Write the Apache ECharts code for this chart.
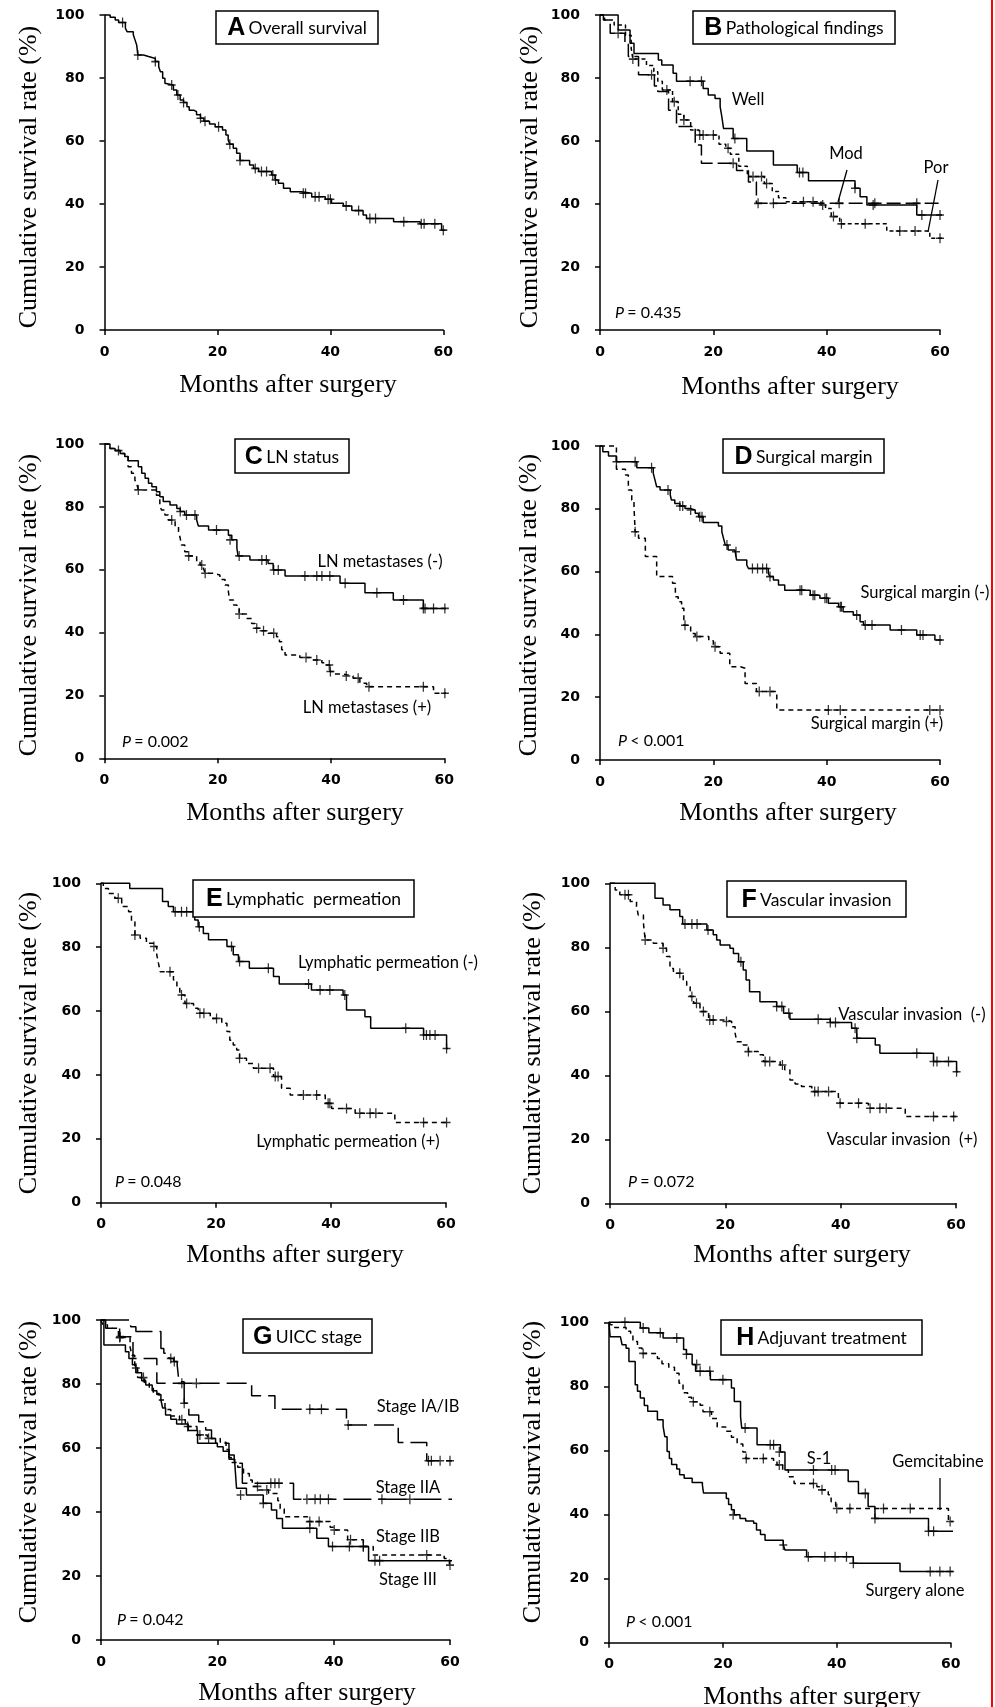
<!DOCTYPE html>
<html>
<head>
<meta charset="utf-8">
<script src="https://cdn.jsdelivr.net/npm/echarts@6/dist/echarts.min.js"></script>
<style>
  html, body { margin: 0; padding: 0; background: #fff; }
  #main { width: 995px; height: 1707px; }
</style>
</head>
<body>
<div id="main"></div>
<script>
// axis ticks
var ticksX = [0, 20, 40, 60];
var ticksY = [0, 20, 40, 60, 80, 100];

// A overall survival: [month, %] step points, censor marks
var overall = [[0,100],[1.0,99.3],[1.9,98.4],[2.5,97.6],[3.7,95.8],[4.0,94.7],[5.1,93.7],[5.4,92.1],[5.7,90.5],[5.9,87.3],[6.9,86.8],[7.8,86.2],[9.0,85.2],[9.6,83.6],[9.9,82.0],[10.3,79.9],[10.7,78.3],[11.0,77.8],[12.2,76.2],[12.8,74.6],[13.4,73.0],[14.0,72.2],[14.6,70.9],[15.0,69.8],[15.8,69.3],[16.3,68.3],[17.0,67.2],[17.6,66.3],[18.6,65.4],[19.6,64.5],[20.9,63.5],[21.5,61.9],[21.9,60.3],[22.2,59.0],[22.8,57.7],[23.4,56.1],[24.0,53.8],[25.7,52.4],[26.4,51.3],[27.3,50.3],[29.6,49.2],[30.2,47.6],[30.8,46.6],[31.7,45.0],[32.9,43.9],[34.9,43.4],[36.7,42.3],[39.1,41.5],[40.2,40.2],[42.3,39.4],[43.8,37.9],[45.8,36.5],[46.4,35.4],[51.2,34.4],[55.9,33.7],[59.7,31.7],[63.4,31.7]];
var overallCens = [[3.2,97.6],[5.9,87.3],[9.0,85.2],[11.9,77.8],[13.0,74.6],[14.0,72.2],[17.0,67.2],[17.8,66.3],[20.2,64.5],[22.2,59.0],[24.0,53.8],[26.7,51.3],[27.8,50.3],[28.7,50.3],[29.8,49.2],[30.3,47.6],[35.2,43.4],[35.6,43.4],[37.3,42.3],[38.0,42.3],[39.6,41.5],[40.0,41.5],[42.8,39.4],[45.0,37.9],[47.0,35.4],[48.0,35.4],[53.0,34.4],[56.1,33.7],[56.6,33.7],[58.5,33.7],[60.0,31.7]];

// B pathological findings
var bWell = [[0,100],[3.2,95.2],[5.3,91.0],[6.0,87.8],[10.3,85.7],[10.9,84.1],[12.9,81.5],[13.5,79.0],[18.2,76.7],[19.1,74.6],[20.3,73.5],[21.2,70.9],[21.5,67.7],[21.8,64.0],[23.5,60.8],[25.9,56.8],[30.6,52.4],[34.8,50.0],[36.8,47.4],[45.0,45.0],[45.9,42.3],[47.1,39.7],[55.9,36.5],[63.8,36.5]];
var bWellCens = [[15.9,79.0],[17.9,79.0],[23.8,60.8],[35.2,50.0],[35.8,50.0],[45.0,45.0],[48.2,39.7],[56.8,36.5],[60.0,36.5]];
var bMod = [[0,100],[0.6,98.4],[1.8,94.2],[4.4,91.0],[5.0,86.8],[6.8,81.0],[9.6,77.5],[10.2,75.7],[12.1,69.8],[13.5,64.6],[16.8,58.7],[17.9,52.9],[24.1,50.6],[26.2,47.0],[27.6,40.2],[63.8,40.2]];
var bModCens = [[3.2,94.2],[9.1,81.0],[23.5,52.9],[27.9,40.2],[30.6,40.2],[42.2,40.2],[48.5,40.2],[55.9,40.2]];
var bPor = [[0,100],[0.8,98.4],[2.5,96.8],[4.5,93.6],[5.5,89.5],[5.8,86.0],[8.2,84.0],[9.5,82.0],[10.2,79.0],[11.0,76.2],[12.8,72.5],[13.8,68.5],[14.8,66.7],[16.0,63.5],[17.5,61.9],[21.0,59.0],[22.2,57.7],[23.0,55.8],[24.5,52.0],[26.0,48.7],[29.0,46.5],[30.4,44.0],[31.5,42.0],[32.8,40.7],[39.0,39.7],[39.8,38.6],[40.8,36.0],[42.3,33.7],[50.6,31.4],[58.2,29.1],[62.4,29.1]];
var bPorCens = [[5.8,86.0],[11.8,76.2],[13.1,72.5],[14.8,66.7],[17.6,61.9],[18.2,61.9],[20.0,61.9],[22.6,57.7],[27.0,48.7],[28.5,48.7],[29.4,46.5],[35.9,40.7],[37.6,40.7],[39.3,39.7],[41.2,36.0],[42.6,33.7],[46.8,33.7],[52.9,31.4],[55.6,31.4],[60.0,29.1]];

// C LN status
var cNeg = [[0,100],[1.0,98.6],[1.9,97.9],[2.8,97.0],[3.6,96.0],[4.2,94.7],[6.0,92.8],[6.6,90.7],[7.2,89.1],[7.8,87.5],[8.4,86.4],[9.2,84.8],[9.8,83.2],[10.4,81.7],[11.6,80.6],[12.8,79.5],[13.4,78.5],[14.2,77.4],[16.3,75.8],[16.6,73.9],[18.4,72.6],[21.9,71.0],[22.5,69.5],[23.4,66.8],[23.6,64.4],[25.7,63.1],[28.9,62.0],[29.8,59.9],[31.9,58.0],[41.6,55.7],[46.0,52.7],[51.0,50.4],[56.3,47.7],[63.6,47.7]];
var cNegCens = [[2.5,97.9],[13.4,78.5],[14.5,77.4],[16.0,77.4],[19.8,72.6],[22.2,69.5],[23.8,64.4],[27.8,63.1],[28.6,63.1],[29.9,59.9],[30.7,59.9],[35.4,58.0],[37.5,58.0],[38.4,58.0],[39.8,58.0],[42.5,55.7],[48.1,52.7],[52.8,50.4],[56.3,47.7],[56.6,47.7],[58.1,47.7],[60.1,47.7]];
var cPos = [[0,100],[1.0,98.6],[1.9,97.9],[2.8,97.0],[3.6,96.0],[4.2,92.8],[4.8,90.7],[5.4,88.5],[5.7,87.5],[6.0,85.4],[9.2,83.7],[9.8,80.3],[10.1,79.0],[10.7,77.4],[11.3,75.8],[12.5,73.7],[13.1,72.1],[13.4,70.0],[13.6,67.9],[14.2,65.7],[14.8,64.4],[16.3,62.6],[16.9,61.5],[17.5,60.4],[17.8,58.9],[19.2,58.3],[20.4,56.9],[21.3,55.1],[21.9,53.0],[22.1,50.4],[22.8,48.8],[23.4,47.7],[23.8,45.9],[25.1,44.5],[26.0,42.9],[26.6,41.4],[27.5,40.6],[28.9,39.8],[30.4,38.7],[30.9,37.1],[31.3,34.5],[31.9,32.9],[34.5,32.1],[36.9,31.3],[38.4,30.4],[38.9,29.7],[39.8,27.6],[40.7,26.8],[42.2,26.2],[43.9,25.5],[45.1,23.9],[46.3,22.8],[58.1,20.7],[62.8,20.7]];
var cPosCens = [[6.0,85.4],[11.9,75.8],[14.9,64.4],[17.2,61.5],[17.8,58.9],[23.8,45.9],[26.9,41.4],[28.1,40.6],[29.9,39.8],[35.6,32.1],[37.5,31.3],[39.7,29.7],[39.9,27.6],[42.7,26.2],[44.8,25.5],[46.7,22.8],[56.3,22.8],[60.1,20.7]];

// D surgical margin
var dNeg = [[0,100],[0.5,98.2],[1.5,96.8],[2.9,95.0],[6.5,93.1],[9.4,91.3],[9.7,89.2],[10.0,87.0],[10.6,86.0],[12.4,84.4],[12.6,82.8],[13.2,81.7],[14.1,80.9],[15.0,80.1],[15.9,79.6],[16.8,78.6],[17.4,77.5],[18.2,75.6],[20.9,74.5],[21.5,72.7],[21.8,70.6],[22.1,68.5],[22.6,66.9],[23.8,66.3],[24.1,63.7],[25.9,62.1],[26.2,61.0],[29.7,59.4],[30.0,58.4],[30.6,57.3],[31.5,55.7],[32.6,54.1],[37.1,52.5],[38.8,51.5],[40.3,49.9],[42.1,48.8],[42.9,47.2],[44.7,46.2],[45.9,44.0],[46.5,43.0],[51.2,41.4],[55.9,39.8],[59.1,38.2],[63.8,38.2]];
var dNegCens = [[2.9,95.0],[6.2,95.0],[9.1,93.1],[12.0,86.0],[14.1,80.9],[14.6,80.9],[16.0,79.6],[17.6,77.5],[18.0,77.5],[22.4,68.5],[24.0,66.3],[26.9,61.0],[27.8,61.0],[28.7,61.0],[29.4,61.0],[30.0,58.4],[35.3,54.1],[35.6,54.1],[37.6,52.5],[37.9,52.5],[39.7,51.5],[40.0,51.5],[42.4,48.8],[42.6,48.8],[45.3,46.2],[46.8,43.0],[48.0,43.0],[53.2,41.4],[56.5,39.8],[57.0,39.8],[60.0,38.2]];
var dPos = [[0,100],[2.9,92.6],[4.5,90.8],[5.0,86.0],[5.6,82.8],[6.0,80.7],[6.2,72.7],[6.8,70.6],[8.0,64.8],[10.0,58.4],[12.8,56.3],[13.3,52.0],[13.8,50.4],[14.4,48.3],[14.8,42.9],[16.0,40.3],[16.8,39.3],[19.2,38.0],[20.0,36.1],[21.2,34.0],[22.9,29.7],[24.8,29.2],[25.6,24.4],[27.6,21.8],[31.2,15.9],[63.8,15.9]];
var dPosCens = [[6.2,72.7],[15.0,42.9],[17.1,39.3],[20.3,36.1],[28.1,21.8],[30.0,21.8],[40.3,15.9],[42.4,15.9],[58.2,15.9],[60.0,15.9]];

// E lymphatic permeation
var eNeg = [[0,100],[5.0,98.4],[10.7,94.3],[11.7,92.7],[12.6,91.1],[16.3,88.5],[16.9,86.4],[17.8,84.3],[18.7,82.3],[21.9,80.2],[23.0,77.6],[23.9,75.5],[25.8,73.4],[30.0,70.8],[31.0,68.5],[36.6,66.6],[42.1,65.0],[42.7,60.3],[45.9,58.2],[46.9,54.6],[56.1,52.5],[60.1,48.3],[63.9,48.3]];
var eNegCens = [[12.9,91.1],[14.0,91.1],[14.9,91.1],[16.1,91.1],[17.1,86.4],[22.7,80.2],[24.1,75.5],[29.1,73.4],[36.1,68.5],[38.1,66.6],[39.8,66.6],[42.4,65.0],[53.0,54.6],[56.1,52.5],[56.6,52.5],[57.2,52.5],[58.1,52.5],[60.1,48.3]];
var ePos = [[0,100],[0.4,98.4],[1.3,96.8],[2.4,95.3],[3.6,92.7],[4.8,91.1],[5.3,88.0],[5.9,83.8],[6.8,82.8],[7.9,81.2],[9.1,80.2],[9.7,77.6],[10.0,74.9],[10.3,72.3],[12.6,69.7],[13.2,67.6],[13.7,65.0],[14.6,62.4],[16.1,60.9],[16.9,59.3],[19.0,57.7],[21.0,56.2],[21.9,53.6],[22.4,50.9],[23.0,49.4],[23.6,47.8],[24.1,45.2],[25.3,43.6],[26.5,42.1],[30.0,39.5],[31.4,35.8],[32.9,33.7],[39.0,31.1],[40.1,29.5],[44.2,28.0],[51.1,25.1],[63.3,25.1]];
var ePosCens = [[3.0,95.3],[5.9,83.8],[9.2,80.2],[12.0,72.3],[14.0,65.0],[14.9,62.4],[17.2,59.3],[17.9,59.3],[20.1,57.7],[24.1,45.2],[27.4,42.1],[29.4,42.1],[30.3,39.5],[30.8,39.5],[35.2,33.7],[37.5,33.7],[39.5,31.1],[39.8,31.1],[42.7,29.5],[45.0,28.0],[46.8,28.0],[47.8,28.0],[56.1,25.1],[60.1,25.1]];

// F vascular invasion
var fNeg = [[0,100],[7.8,95.3],[9.2,93.2],[10.4,91.7],[12.1,89.6],[12.6,87.3],[16.8,85.4],[17.9,83.9],[18.5,82.3],[19.1,80.7],[20.8,79.7],[21.4,78.1],[22.3,75.5],[23.1,72.9],[23.6,69.8],[24.2,66.1],[26.0,63.0],[28.9,61.5],[30.1,59.4],[31.2,57.5],[38.2,56.5],[41.9,54.7],[42.8,51.6],[46.0,49.5],[46.8,46.9],[56.1,44.3],[60.1,41.1],[63.9,41.1]];
var fNegCens = [[13.0,87.3],[14.2,87.3],[15.1,87.3],[17.0,85.4],[22.7,75.5],[28.9,61.5],[29.8,61.5],[31.0,59.4],[36.1,57.5],[38.2,56.5],[39.1,56.5],[42.5,54.7],[42.8,51.6],[53.2,46.9],[56.1,44.3],[56.7,44.3],[58.7,44.3],[60.1,41.1]];
var fPos = [[0,100],[0.9,97.9],[1.7,96.4],[3.5,94.3],[4.6,92.7],[4.9,90.1],[5.8,87.5],[6.1,82.3],[7.5,81.3],[9.2,79.7],[9.8,77.1],[10.4,73.4],[11.0,71.9],[12.7,69.3],[13.3,67.7],[13.9,64.6],[14.5,62.5],[15.6,59.9],[17.1,57.3],[20.2,56.8],[21.1,55.2],[21.7,53.1],[22.0,50.5],[23.1,49.5],[24.0,47.4],[25.7,46.4],[26.6,44.3],[29.5,43.2],[30.3,41.7],[31.2,38.5],[32.1,37.3],[33.2,36.5],[35.0,34.9],[39.6,33.3],[39.9,31.3],[44.8,29.7],[51.2,27.1],[63.3,27.1]];
var fPosCens = [[2.6,96.4],[3.2,96.4],[6.1,82.3],[9.2,79.7],[12.1,71.9],[14.2,64.6],[15.0,62.5],[16.2,59.9],[17.3,57.3],[17.9,57.3],[20.2,56.8],[24.0,47.4],[26.9,44.3],[27.7,44.3],[29.9,43.2],[35.5,34.9],[36.1,34.9],[37.9,34.9],[39.9,31.3],[43.1,31.3],[45.1,29.7],[46.8,29.7],[47.9,29.7],[56.1,27.1],[59.6,27.1]];

// G UICC stage
var gIA = [[0,100],[0.8,97.4],[3.2,94.8],[5.5,88.0],[9.6,80.2],[25.9,76.3],[29.9,72.1],[42.2,67.2],[51.1,61.7],[56.0,56.0],[64.0,56.0]];
var gIACens = [[3.3,94.8],[13.9,80.2],[16.4,80.2],[35.9,72.1],[37.9,72.1],[42.5,67.2],[56.3,56.0],[56.8,56.0],[58.3,56.0],[60.0,56.0]];
var gIIA = [[0,100],[5.1,97.9],[6.0,96.4],[10.3,91.1],[10.8,89.6],[11.7,88.0],[12.5,87.0],[13.1,85.9],[13.4,80.7],[14.3,74.0],[15.1,70.3],[16.8,68.2],[18.0,65.6],[19.0,63.0],[19.7,61.5],[22.0,57.8],[22.9,55.2],[24.3,49.0],[33.1,44.0],[64.0,44.0]];
var gIIACens = [[12.0,88.0],[12.6,87.0],[14.3,74.0],[29.2,49.0],[29.9,49.0],[30.6,49.0],[35.4,44.0],[36.8,44.0],[37.7,44.0],[39.1,44.0],[48.3,44.0],[53.1,44.0]];
var gIIB = [[0,100],[0.3,98.5],[1.1,97.4],[3.0,94.5],[5.0,91.6],[5.3,89.0],[5.8,85.0],[6.3,82.0],[7.5,80.5],[8.3,79.0],[9.0,77.0],[10.0,75.0],[11.0,72.0],[12.0,70.0],[13.5,68.8],[14.5,66.7],[16.5,64.1],[18.3,63.0],[20.5,61.8],[21.5,59.5],[22.0,57.0],[22.4,55.5],[23.5,54.0],[24.5,52.0],[25.5,50.0],[26.0,48.0],[27.0,46.9],[28.8,45.8],[30.4,43.5],[30.8,41.0],[31.5,38.5],[35.5,37.0],[39.4,35.2],[40.0,34.4],[42.4,31.3],[45.1,29.2],[46.8,26.6],[59.0,25.5],[59.9,23.4],[63.9,23.4]];
var gIIBCens = [[3.2,94.5],[6.0,85.0],[7.3,82.0],[13.9,68.8],[14.9,66.7],[17.0,64.1],[18.5,63.0],[26.9,48.0],[28.5,46.9],[35.9,37.0],[37.5,37.0],[40.1,34.4],[42.9,31.3],[45.1,29.2],[56.0,26.6],[60.0,23.4]];
var gIII = [[0,100],[0.5,92.2],[4.2,90.1],[4.8,88.0],[5.4,86.0],[6.0,83.5],[7.0,81.0],[7.7,79.7],[8.8,77.9],[9.6,76.7],[10.3,75.0],[10.6,72.5],[11.1,70.3],[12.0,69.0],[13.0,67.5],[15.0,65.5],[16.6,61.5],[20.0,60.4],[21.0,59.0],[22.0,56.5],[23.0,55.2],[23.3,47.4],[25.0,45.3],[27.9,42.7],[29.3,40.6],[30.2,38.0],[31.2,34.9],[37.1,31.8],[39.1,29.2],[46.0,24.8],[64.0,24.8]];
var gIIICens = [[24.0,45.3],[27.9,42.7],[35.9,34.9],[39.8,29.2],[42.7,29.2],[45.1,29.2],[47.1,24.8],[47.9,24.8]];

// H adjuvant treatment
var hS1 = [[0,100],[5.5,98.2],[7.0,96.7],[9.5,95.1],[13.1,91.5],[13.6,90.0],[14.6,86.8],[15.2,84.7],[17.8,82.1],[21.5,79.5],[22.0,75.3],[23.1,70.5],[23.3,67.0],[26.0,61.8],[30.1,59.5],[30.9,53.9],[42.0,50.3],[43.8,46.6],[45.5,42.5],[46.7,38.8],[56.1,34.8],[63.7,34.8]];
var hS1Cens = [[2.8,100],[6.0,98.2],[9.0,96.7],[11.9,95.1],[13.6,90.0],[15.4,86.8],[16.0,84.7],[17.7,84.7],[20.0,82.1],[23.9,67.0],[28.3,61.8],[28.9,61.8],[29.9,59.5],[35.9,53.9],[39.1,53.9],[39.7,53.9],[45.0,46.6],[46.7,38.8],[56.1,34.8],[57.0,34.8]];
var hGem = [[0,100],[0.3,99.2],[1.0,98.4],[3.0,97.2],[3.8,96.0],[4.2,94.0],[5.0,92.0],[5.8,90.3],[8.5,88.7],[9.3,87.1],[10.5,86.0],[11.5,84.1],[12.3,81.0],[13.0,78.0],[13.8,76.6],[14.5,75.2],[16.0,74.1],[16.5,72.1],[18.0,70.0],[19.0,67.3],[20.5,66.0],[21.5,64.1],[22.5,62.0],[23.5,59.5],[24.0,57.5],[28.9,56.4],[29.5,55.5],[30.5,53.9],[31.5,51.8],[32.5,49.7],[36.5,48.7],[37.0,47.7],[38.5,46.2],[39.0,44.0],[39.8,41.9],[59.6,37.8],[62.8,37.8]];
var hGemCens = [[6.0,90.3],[14.8,75.2],[17.7,72.1],[24.1,57.5],[27.1,57.5],[29.9,55.5],[35.9,49.7],[37.4,47.7],[40.0,41.9],[42.3,41.9],[48.2,41.9],[52.9,41.9],[59.9,37.8]];
var hAlone = [[0,100],[0.2,95.5],[2.0,95.1],[2.3,93.0],[3.0,91.9],[3.5,87.8],[4.6,80.5],[5.0,78.5],[5.5,76.4],[6.2,74.0],[6.8,72.2],[8.5,69.6],[9.5,67.5],[9.8,64.3],[10.2,59.7],[10.6,57.5],[11.0,55.6],[11.9,54.2],[12.4,52.4],[13.2,51.3],[14.6,50.0],[16.4,49.2],[16.6,46.7],[20.6,45.0],[21.0,43.1],[21.5,41.5],[22.0,39.9],[23.0,38.8],[24.0,38.0],[25.4,37.3],[25.9,35.2],[26.6,33.8],[27.4,32.0],[30.6,30.5],[30.9,28.9],[34.7,26.8],[42.9,24.8],[51.1,22.2],[62.8,22.2]];
var hAloneCens = [[21.8,39.9],[30.6,30.5],[35.0,26.8],[37.9,26.8],[39.7,26.8],[41.7,26.8],[42.9,24.8],[56.4,22.2],[58.1,22.2],[59.9,22.2]];

var myChart = echarts.init(document.getElementById('main'));

// plot areas, boxes and text positions (pixels)
var panels = [
  { grid: [104.5, 15, 338.8, 315], box: [216, 11, 162, 33], letter: 'A', title: 'Overall survival', yt: [29, 177], xt: [288, 385] },
  { grid: [600, 15, 340, 315], box: [693, 11, 202, 33], letter: 'B', title: 'Pathological findings', yt: [530, 177], xt: [790, 387], p: [615, 313, '= 0.435'] },
  { grid: [104.3, 444, 340, 314.3], box: [235, 439, 114, 34], letter: 'C', title: 'LN status', yt: [29, 605], xt: [295, 813], p: [122, 742, '= 0.002'] },
  { grid: [600, 446, 340, 314], box: [723, 439, 161, 34], letter: 'D', title: 'Surgical margin', yt: [529, 605], xt: [788, 813], p: [618, 741, '< 0.001'] },
  { grid: [101, 883.3, 345, 319.4], box: [193, 880, 221, 37], letter: 'E', title: 'Lymphatic  permeation', yt: [29, 1043], xt: [295, 1255], p: [115, 1182, '= 0.048'] },
  { grid: [610, 883.3, 346, 320], box: [727, 881, 179, 36], letter: 'F', title: 'Vascular invasion', yt: [533, 1043], xt: [802, 1255], p: [628, 1182, '= 0.072'] },
  { grid: [101, 1320, 349, 320], box: [243, 1319, 129, 34], letter: 'G', title: 'UICC stage', yt: [29, 1472], xt: [307, 1693], p: [117, 1620, '= 0.042'] },
  { grid: [609, 1322.3, 341.7, 320.4], box: [721, 1320, 201, 35], letter: 'H', title: 'Adjuvant treatment', yt: [533, 1472], xt: [812, 1697], p: [626, 1622, '< 0.001'] }
];

var curveLabels = [
  ['Well', 748, 100], ['Mod', 846, 154], ['Por', 936, 168],
  ['LN metastases (-)', 380, 562], ['LN metastases (+)', 367, 708],
  ['Surgical margin (-)', 925, 593], ['Surgical margin (+)', 877, 724],
  ['Lymphatic permeation (-)', 388, 963], ['Lymphatic permeation (+)', 348, 1142],
  ['Vascular invasion  (-)', 912, 1015], ['Vascular invasion  (+)', 902, 1140],
  ['Stage IA/IB', 418, 1407], ['Stage IIA', 408, 1488], ['Stage IIB', 408, 1537], ['Stage III', 408, 1580],
  ['S-1', 819, 1459], ['Gemcitabine', 938, 1462], ['Surgery alone', 915, 1591]
];
var leaders = [[847, 170, 838, 202], [938, 180, 928, 232], [940, 1478, 940, 1510]];

var SHORT = [5, 4], LONG = [14, 5];
var curves = [
  [0, overall, 'solid', overallCens],
  [1, bWell, 'solid', bWellCens], [1, bMod, LONG, bModCens], [1, bPor, [4, 3], bPorCens],
  [2, cNeg, 'solid', cNegCens], [2, cPos, SHORT, cPosCens],
  [3, dNeg, 'solid', dNegCens], [3, dPos, SHORT, dPosCens],
  [4, eNeg, 'solid', eNegCens], [4, ePos, SHORT, ePosCens],
  [5, fNeg, 'solid', fNegCens], [5, fPos, SHORT, fPosCens],
  [6, gIA, [20, 7], gIACens], [6, gIIA, [28, 7], gIIACens], [6, gIIB, SHORT, gIIBCens], [6, gIII, 'solid', gIIICens],
  [7, hS1, 'solid', hS1Cens], [7, hGem, SHORT, hGemCens], [7, hAlone, 'solid', hAloneCens]
];

var PLUS = 'path://M5,0L5,10M0,5L10,5';
var grids = [], xAxes = [], yAxes = [], series = [], graphics = [];
var tickFont = { color: '#000', fontFamily: '"DejaVu Sans"', fontWeight: 'bold', fontSize: 14 };

panels.forEach(function (p, i) {
  grids.push({ left: p.grid[0], top: p.grid[1], width: p.grid[2], height: p.grid[3] });
  xAxes.push({
    gridIndex: i, type: 'value', min: ticksX[0], max: ticksX[ticksX.length - 1], interval: ticksX[1] - ticksX[0],
    axisLine: { show: true, onZero: false, lineStyle: { color: '#000', width: 1.5 } },
    axisTick: { show: true, length: 5, lineStyle: { color: '#000', width: 1.5 } },
    splitLine: { show: false },
    axisLabel: Object.assign({ margin: 15 }, tickFont)
  });
  yAxes.push({
    gridIndex: i, type: 'value', min: ticksY[0], max: ticksY[ticksY.length - 1], interval: ticksY[1] - ticksY[0],
    axisLine: { show: true, onZero: false, lineStyle: { color: '#000', width: 1.5 } },
    axisTick: { show: true, length: 5, lineStyle: { color: '#000', width: 1.5 } },
    splitLine: { show: false },
    axisLabel: Object.assign({ margin: 20 }, tickFont)
  });

  // axis titles
  graphics.push({
    type: 'text', x: p.yt[0], y: p.yt[1], rotation: Math.PI / 2,
    style: { text: 'Cumulative survival rate (%)', font: '26px "Liberation Serif"', fill: '#000',
             align: 'center', verticalAlign: 'middle', textAlign: 'center', textVerticalAlign: 'middle' }
  });
  graphics.push({
    type: 'text', x: p.xt[0], y: p.xt[1],
    style: { text: 'Months after surgery', font: '26px "Liberation Serif"', fill: '#000',
             align: 'center', verticalAlign: 'middle', textAlign: 'center', textVerticalAlign: 'middle' }
  });

  // panel title box
  graphics.push({
    type: 'rect', shape: { x: p.box[0], y: p.box[1], width: p.box[2], height: p.box[3] },
    style: { fill: '#fff', stroke: '#000', lineWidth: 1.5 }, z: 10
  });
  graphics.push({
    type: 'text', x: p.box[0] + p.box[2] / 2, y: p.box[1] + p.box[3] / 2 + 1, z: 11,
    style: {
      text: '{b|' + p.letter + '} {n|' + p.title + '}',
      rich: {
        b: { fontSize: 25, fontWeight: 'bold', fontFamily: '"Liberation Sans"', fill: '#000' },
        n: { fontSize: 17.5, fontFamily: 'Lato', fill: '#000' }
      },
      align: 'center', verticalAlign: 'middle', textAlign: 'center', textVerticalAlign: 'middle'
    }
  });

  if (p.p) {
    graphics.push({
      type: 'text', x: p.p[0], y: p.p[1],
      style: {
        text: '{i|P} {n|' + p.p[2] + '}',
        rich: {
          i: { fontSize: 16, fontStyle: 'italic', fontFamily: 'Lato', fill: '#000' },
          n: { fontSize: 16, fontFamily: 'Lato', fill: '#000' }
        },
        align: 'left', verticalAlign: 'middle', textAlign: 'left', textVerticalAlign: 'middle'
      }
    });
  }
});

curveLabels.forEach(function (l) {
  graphics.push({
    type: 'text', x: l[1], y: l[2],
    style: { text: l[0], font: '16.5px Lato', fill: '#000',
             align: 'center', verticalAlign: 'middle', textAlign: 'center', textVerticalAlign: 'middle' }
  });
});
leaders.forEach(function (s) {
  graphics.push({ type: 'line', shape: { x1: s[0], y1: s[1], x2: s[2], y2: s[3] }, style: { stroke: '#000', lineWidth: 1.3 } });
});

// red edge line on the right
graphics.push({ type: 'line', shape: { x1: 992, y1: 0, x2: 992, y2: 1707 }, style: { stroke: '#ff0000', lineWidth: 2 } });

curves.forEach(function (c) {
  series.push({
    type: 'line', xAxisIndex: c[0], yAxisIndex: c[0], data: c[1], step: 'end',
    symbol: 'none', clip: false, silent: true,
    lineStyle: { color: '#000', width: 1.5, type: c[2] }
  });
  series.push({
    type: 'scatter', xAxisIndex: c[0], yAxisIndex: c[0], data: c[3],
    symbol: PLUS, symbolSize: [8, 10], clip: false, silent: true,
    itemStyle: { color: 'rgba(0,0,0,0)', borderColor: '#000', borderWidth: 1.4 }
  });
});

var option = {
  backgroundColor: '#fff',
  animation: false,
  grid: grids,
  xAxis: xAxes,
  yAxis: yAxes,
  series: series,
  graphic: graphics
};

myChart.setOption(option);
</script>
</body>
</html>
